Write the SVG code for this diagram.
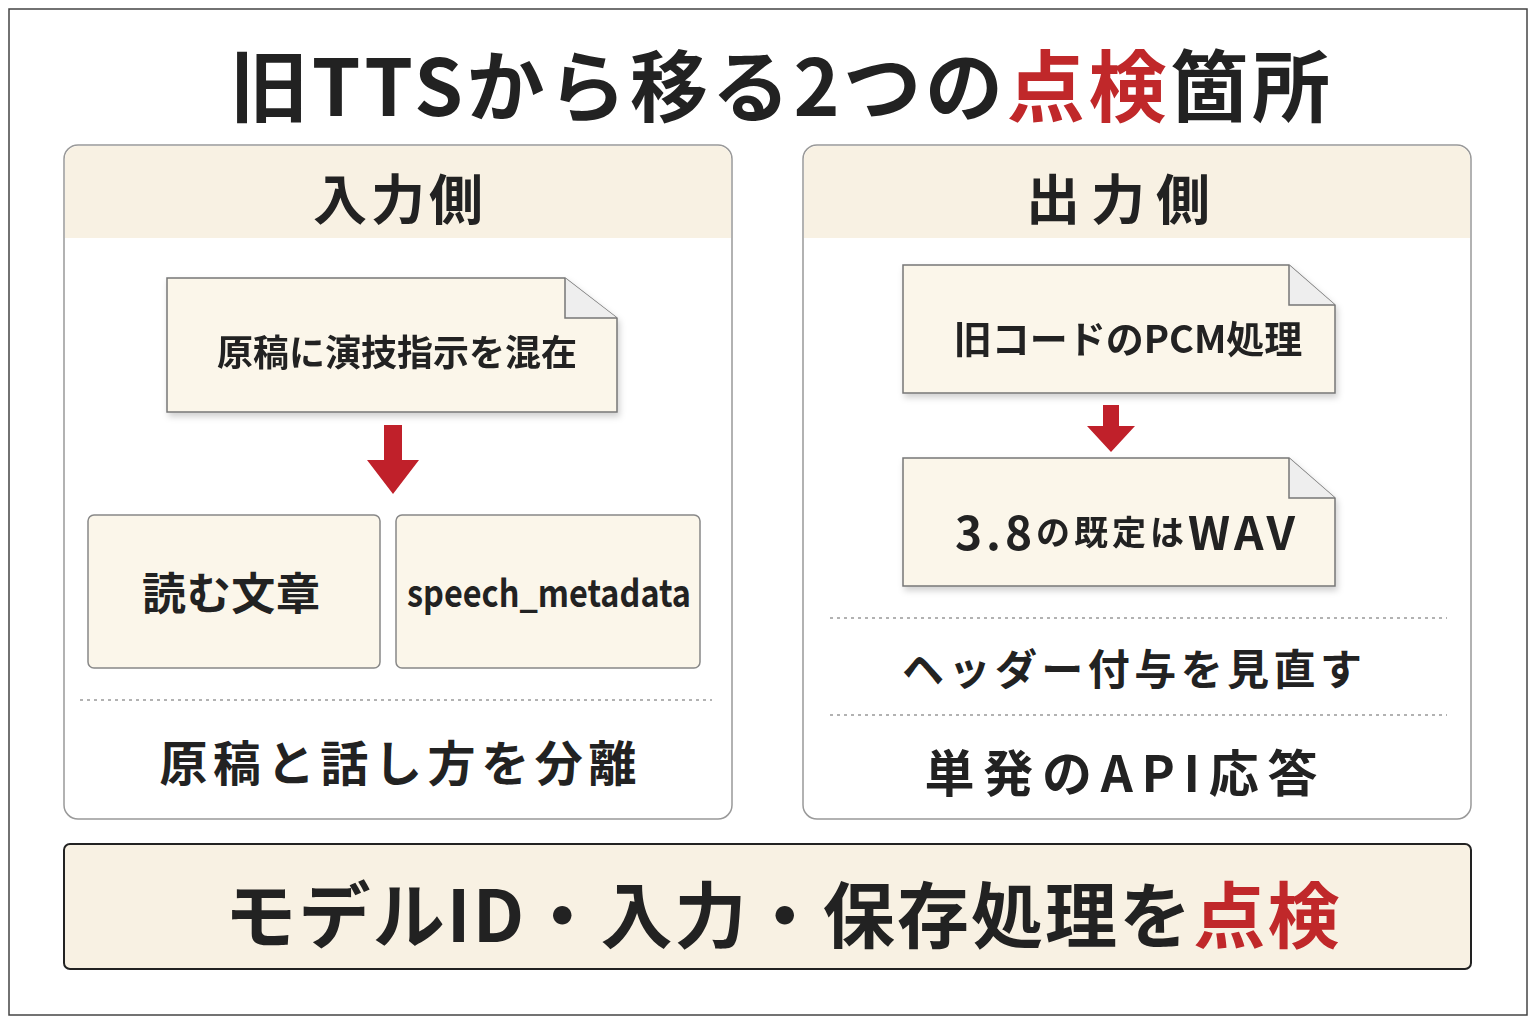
<svg xmlns="http://www.w3.org/2000/svg" width="1536" height="1024" viewBox="0 0 1536 1024">
<style>
text{font-family:"Noto Sans CJK JP","Noto Sans",sans-serif;font-weight:700;fill:#222;text-anchor:middle;dominant-baseline:central}
.red{fill:#c0282a}
.panel{fill:#fff;stroke:#999;stroke-width:1.5}
.band{fill:#f8f1e3}
.doc{fill:#fbf6ea;stroke:#777;stroke-width:1.5}
.box{fill:#fbf6ea;stroke:#888;stroke-width:1.5}
.dot{stroke:#999;stroke-width:1.5;stroke-dasharray:3 4}
.arr{fill:#c0202a}
</style>
<defs><filter id="sh" x="-5%" y="-5%" width="115%" height="120%"><feDropShadow dx="2" dy="4" stdDeviation="3" flood-color="#000" flood-opacity="0.18"/></filter></defs>
<rect x="0" y="0" width="1536" height="1024" fill="#fff"/>
<rect x="9" y="9" width="1518" height="1006" fill="none" stroke="#444" stroke-width="1.5"/>
<text x="780" y="82" font-size="78" textLength="1100" lengthAdjust="spacing">旧TTSから移る2つの<tspan class="red">点検</tspan>箇所</text>

<g id="left">
<rect class="panel" x="64" y="145" width="668" height="674" rx="14"/>
<path class="band" d="M65 238V159a13 13 0 0 1 13-13H718a13 13 0 0 1 13 13V238Z"/>
<text x="398" y="196" font-size="54" textLength="170" lengthAdjust="spacing">入力側</text>
<line class="dot" x1="80" y1="700" x2="712" y2="700"/>
<text x="398" y="760" font-size="48" textLength="477" lengthAdjust="spacing">原稿と話し方を分離</text>
</g>
<g id="doc1" filter="url(#sh)">
<path class="doc" d="M167 278H565L617 318V412H167Z"/>
<path d="M565 278V318H617" fill="#eee" stroke="#777" stroke-width="1.5"/>
<text x="397" y="350" font-size="36">原稿に演技指示を混在</text>
</g>
<g id="read"><rect class="box" x="88" y="515" width="292" height="153" rx="6"/><text x="231" y="591" font-size="44" textLength="178" lengthAdjust="spacing">読む文章</text></g>
<g id="meta"><rect class="box" x="396" y="515" width="304" height="153" rx="6"/><text x="549" y="590" font-size="38" font-family="'Noto Sans',sans-serif" font-weight="500" textLength="284" lengthAdjust="spacingAndGlyphs">speech_metadata</text></g>

<g id="right">
<rect class="panel" x="803" y="145" width="668" height="674" rx="14"/>
<path class="band" d="M804 238V159a13 13 0 0 1 13-13H1457a13 13 0 0 1 13 13V238Z"/>
<text x="1118" y="196" font-size="54" textLength="184" lengthAdjust="spacing">出力側</text>
<line class="dot" x1="830" y1="618" x2="1447" y2="618"/>
<text x="1132" y="666" font-size="42" textLength="460" lengthAdjust="spacing">ヘッダー付与を見直す</text>
<line class="dot" x1="830" y1="715" x2="1447" y2="715"/>
<text x="1121" y="770" font-size="50" textLength="393" lengthAdjust="spacing">単発のAPI応答</text>
</g>
<g id="doc2" filter="url(#sh)">
<path class="doc" d="M903 265H1289L1335 305V393H903Z"/>
<path d="M1289 265V305H1335" fill="#eee" stroke="#777" stroke-width="1.5"/>
<text x="1128" y="336" font-size="38">旧コードのPCM処理</text>
</g>
<g id="doc3" filter="url(#sh)">
<path class="doc" d="M903 458H1289L1335 498V586H903Z"/>
<path d="M1289 458V498H1335" fill="#eee" stroke="#777" stroke-width="1.5"/>
<text x="1125" y="530" font-size="46" textLength="340" lengthAdjust="spacing">3.8<tspan font-size="34">の既定は</tspan>WAV</text>
</g>

<g id="connectors">
<path class="arr" d="M384 425H402V460H419L393 494L367 460H384Z"/>
<path class="arr" d="M1103 405H1119V426H1135L1111 452L1087 426H1103Z"/>
</g>

<g id="bottom">
<rect x="64" y="844" width="1407" height="125" rx="6" fill="#f8f1e3" stroke="#222" stroke-width="2"/>
<text x="782" y="910" font-size="72" textLength="1115" lengthAdjust="spacing">モデルID・入力・保存処理を<tspan class="red">点検</tspan></text>
</g>
</svg>
